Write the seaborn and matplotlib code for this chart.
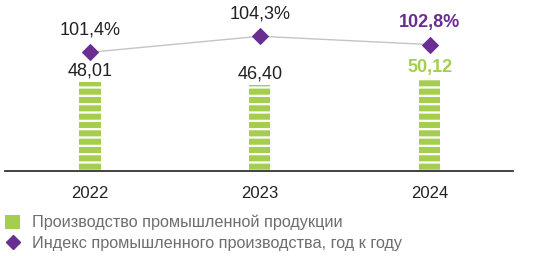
import matplotlib
matplotlib.use("Agg")
import matplotlib.pyplot as plt
import seaborn as sns
import numpy as np
import pandas as pd
from matplotlib.patches import Patch
from matplotlib.lines import Line2D

years = ["2022", "2023", "2024"]
production = [48.01, 46.40, 50.12]
production_labels = ["48,01", "46,40", "50,12"]
index_values = [101.4, 104.3, 102.8]
index_labels = ["101,4%", "104,3%", "102,8%"]
legend_labels = ["Производство промышленной продукции",
                 "Индекс промышленного производства, год к году"]

GREEN = "#a6ce4e"
PURPLE = "#6a2d91"
DARK = "#222222"
GRAY_TEXT = "#6e6e6e"

sns.set_theme(style="white")
plt.rcParams["font.family"] = ["Liberation Sans", "DejaVu Sans"]
plt.rcParams["hatch.linewidth"] = 1.6

fig = plt.figure(figsize=(5.36, 2.56), dpi=100)
ax = fig.add_axes([5/536, 85.3/256, 508/536, 170.7/256])

df = pd.DataFrame({"year": years, "value": production})
sns.barplot(data=df, x="year", y="value", ax=ax, color=GREEN, width=0.125,
            saturation=1, edgecolor="white", linewidth=0, hatch="--")
for p in ax.patches:
    p.set_facecolor(GREEN)
    p.set_edgecolor("white")
    p.set_linewidth(0)

texts = ax.bar_label(ax.containers[0], labels=production_labels, padding=1.5,
                     fontsize=13, color=DARK)
texts[2].set_color(GREEN)
texts[2].set_fontweight("bold")

ax.set_ylim(0, 92.2)
ax.set_xlim(-0.5, 2.49)
ax.set_xlabel("")
ax.set_ylabel("")
ax.set_yticks([])
ax.tick_params(axis="x", length=0, pad=11, labelsize=12, labelcolor=DARK)
for s in ["top", "right", "left"]:
    ax.spines[s].set_visible(False)
ax.spines["bottom"].set_color("#333333")
ax.spines["bottom"].set_linewidth(1.3)

ax2 = ax.twinx()
sns.lineplot(x=np.arange(len(years)), y=index_values, ax=ax2, color="#c4c4c4",
             linewidth=1.0, marker="D", markersize=8,
             markerfacecolor=PURPLE, markeredgecolor=PURPLE)
ax2.set_ylim(79.95, 110.87)
ax2.set_xlim(-0.5, 2.49)
ax2.set_yticks([])
for s in ["top", "right", "left", "bottom"]:
    ax2.spines[s].set_visible(False)

for i, (v, lab) in enumerate(zip(index_values, index_labels)):
    last = i == len(index_values) - 1
    ax2.annotate(lab, (i, v), xytext=(0, 10), textcoords="offset points",
                 ha="center", va="bottom", fontsize=13,
                 color=PURPLE if last else DARK,
                 fontweight="bold" if last else "normal")

handles = [Patch(facecolor=GREEN, edgecolor="none"),
           Line2D([], [], linestyle="none", marker="D", markersize=7,
                  markerfacecolor=PURPLE, markeredgecolor=PURPLE)]
fig.legend(handles, legend_labels, loc="upper left",
           bbox_to_anchor=(5/536, 41.5/256), frameon=False, fontsize=11.7,
           labelcolor=GRAY_TEXT, handlelength=0.95, handleheight=0.95,
           handletextpad=0.7, labelspacing=0.32, borderaxespad=0,
           borderpad=0)

fig.savefig("out.png", dpi=100)
